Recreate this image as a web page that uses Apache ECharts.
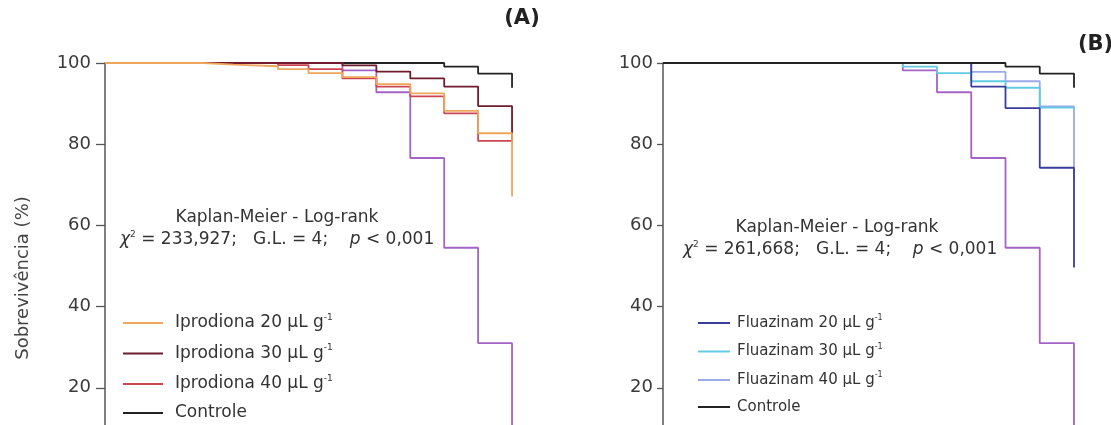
<!DOCTYPE html>
<html>
<head>
<meta charset="utf-8">
<script src="https://cdn.jsdelivr.net/npm/echarts@6/dist/echarts.min.js"></script>
<style>
html,body{margin:0;padding:0;background:#fff;overflow:hidden;width:1111px;height:425px;}
#c{width:1111px;height:480px;}
</style>
</head>
<body>
<div id="c"></div>
<script>
// ---- data (days, survival %) ----
const yTicks = [0, 20, 40, 60, 80, 100];

const controleT = [0, 10, 11, 12];
const controleS = [100, 99.1, 97.4, 93.9];

const testemT = [0, 7, 8, 9, 10, 11, 12];
const testemS = [100, 98.2, 92.8, 76.6, 54.5, 31.0, 0];

const ipro20T = [0, 2.9, 3.8, 5.1, 6, 7, 8, 9, 10, 11, 12];
const ipro20S = [100, 99.6, 99.2, 98.5, 97.5, 96.5, 94.8, 92.5, 88.2, 82.7, 67.1];

const ipro30T = [0, 7, 8, 9, 10, 11, 12];
const ipro30S = [100, 99.4, 97.9, 96.2, 94.2, 89.4, 80.5];

const ipro40T = [0, 5.1, 6, 7, 8, 9, 10, 11, 12];
const ipro40S = [100, 99.5, 98.5, 96.2, 94.2, 91.8, 87.6, 80.8, 80.8];

const flua20T = [0, 9, 10, 11, 12];
const flua20S = [100, 94.2, 88.9, 74.2, 49.6];

const flua30T = [0, 7, 8, 9, 10, 11, 12];
const flua30S = [100, 99.1, 97.5, 95.5, 93.9, 89.0, 89.0];

const flua40T = [0, 9, 10, 11, 12];
const flua40S = [100, 97.8, 95.5, 89.3, 71.5];

const legendA = ['Iprodiona 20 μL g', 'Iprodiona 30 μL g', 'Iprodiona 40 μL g', 'Controle'];
const legendB = ['Fluazinam 20 μL g', 'Fluazinam 30 μL g', 'Fluazinam 40 μL g', 'Controle '];

const statsA = ['233,927', '4', '0,001'];
const statsB = ['261,668', '4', '0,001'];

// ---- build ----
function pts(t, s) { return t.map((v, i) => [v, s[i]]); }

const FONT = 'DejaVu Sans, Verdana, sans-serif';
const C = {
  controle: '#222222', testem: '#a463c6',
  i20: '#eea55c', i30: '#6f1c2e', i40: '#cc4552',
  f20: '#3b3d9c', f30: '#62cbe2', f40: '#9aaae6'
};

function line(name, t, s, color, idx, z) {
  return {
    type: 'line', name: name, step: 'end', data: pts(t, s),
    xAxisIndex: idx, yAxisIndex: idx, showSymbol: false, symbol: 'none',
    lineStyle: { color: color, width: 1.8 }, itemStyle: { color: color },
    z: z, animation: false
  };
}

function yAx(idx, tickLen, margin) {
  return {
    gridIndex: idx, type: 'value', min: 0, max: 100, interval: 20,
    axisLine: { show: true, lineStyle: { color: '#555', width: 1.5 } },
    axisTick: { show: true, length: tickLen, lineStyle: { color: '#555', width: 1.3 } },
    axisLabel: { fontSize: 18, color: '#3a3a3a', margin: margin, fontFamily: FONT,
      formatter: v => yTicks.includes(v) ? String(v) : '' },
    splitLine: { show: false }
  };
}

function xAx(idx) {
  return { gridIndex: idx, type: 'value', min: 0, max: 13, show: false };
}

function supRich(fs, lh) {
  return {
    a: { fontSize: fs, color: '#333', fontFamily: FONT, lineHeight: lh },
    s: { fontSize: Math.round(fs * 0.5), color: '#333', fontFamily: FONT, verticalAlign: 'top', lineHeight: Math.round(lh * 0.5) }
  };
}

function statText(x, y, st, fs) {
  return {
    type: 'text', x: x, y: y,
    style: {
      text: '{i|χ}{s|2}{n| = ' + st[0] + ';   G.L. = ' + st[1] + ';    }{i|p}{n| < ' + st[2] + '}',
      verticalAlign: 'middle',
      rich: {
        i: { fontSize: fs, fill: '#333', fontFamily: FONT, fontStyle: 'italic', lineHeight: 20 },
        n: { fontSize: fs, fill: '#333', fontFamily: FONT, lineHeight: 20 },
        s: { fontSize: Math.round(fs * 0.55), fill: '#333', fontFamily: FONT, lineHeight: 10, verticalAlign: 'top' }
      }
    }
  };
}

const option = {
  backgroundColor: '#fff',
  animation: false,
  grid: [
    { left: 105, top: 63, width: 13 * 33.92, height: 406, containLabel: false },
    { left: 663, top: 63, width: 13 * 34.25, height: 406, containLabel: false }
  ],
  xAxis: [xAx(0), xAx(1)],
  yAxis: [yAx(0, 9, 14), yAx(1, 6, 10)],
  legend: [
    {
      data: legendA, orient: 'vertical', left: 123, top: 313, itemGap: 12, padding: 0,
      itemWidth: 40, itemHeight: 2, icon: 'rect',
      formatter: n => '{a|' + n + '}' + (n.indexOf('μL') >= 0 ? '{s|-1}' : ''),
      textStyle: { rich: supRich(17, 20), padding: [0, 0, 0, 7] }
    },
    {
      data: legendB, orient: 'vertical', left: 698, top: 314, itemGap: 12, padding: 0,
      itemWidth: 32, itemHeight: 2, icon: 'rect',
      formatter: n => '{a|' + n.trim() + '}' + (n.indexOf('μL') >= 0 ? '{s|-1}' : ''),
      textStyle: { rich: supRich(15, 18), padding: [0, 0, 0, 2] }
    }
  ],
  graphic: [
    { type: 'text', x: 522, y: 19, style: { text: '(A)', fontSize: 21, fontWeight: 'bold', fill: '#222', fontFamily: FONT, align: 'center', verticalAlign: 'middle' } },
    { type: 'text', x: 1078, y: 45, style: { text: '(B)', fontSize: 21, fontWeight: 'bold', fill: '#222', fontFamily: FONT, align: 'left', verticalAlign: 'middle' } },
    { type: 'text', x: 23, y: 278, rotation: Math.PI / 2, style: { text: 'Sobrevivência (%)', fontSize: 18, fill: '#444', fontFamily: FONT, align: 'center', verticalAlign: 'middle' } },
    { type: 'text', x: 277, y: 218, style: { text: 'Kaplan-Meier - Log-rank', fontSize: 17, fill: '#333', fontFamily: FONT, align: 'center', verticalAlign: 'middle' } },
    statText(120, 240, statsA, 17),
    { type: 'text', x: 837, y: 228, style: { text: 'Kaplan-Meier - Log-rank', fontSize: 17, fill: '#333', fontFamily: FONT, align: 'center', verticalAlign: 'middle' } },
    statText(683, 250, statsB, 17)
  ],
  series: [
    line('Controle', controleT, controleS, C.controle, 0, 1),
    line('Testemunha', testemT, testemS, C.testem, 0, 2),
    line('Iprodiona 40 μL g', ipro40T, ipro40S, C.i40, 0, 3),
    line('Iprodiona 30 μL g', ipro30T, ipro30S, C.i30, 0, 4),
    line('Iprodiona 20 μL g', ipro20T, ipro20S, C.i20, 0, 5),

    line('Testemunha ', testemT, testemS, C.testem, 1, 2),
    line('Fluazinam 40 μL g', flua40T, flua40S, C.f40, 1, 3),
    line('Fluazinam 30 μL g', flua30T, flua30S, C.f30, 1, 4),
    line('Fluazinam 20 μL g', flua20T, flua20S, C.f20, 1, 5),
    line('Controle ', controleT, controleS, C.controle, 1, 6)
  ]
};

const chart = echarts.init(document.getElementById('c'), null, { renderer: 'canvas' });
chart.setOption(option);
</script>
</body>
</html>
